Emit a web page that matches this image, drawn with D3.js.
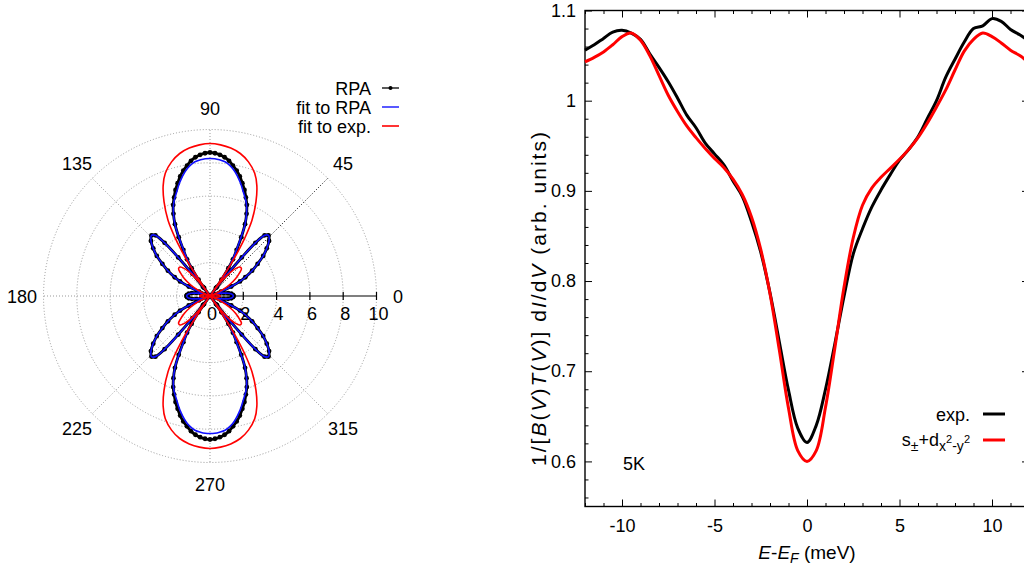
<!DOCTYPE html>
<html><head><meta charset="utf-8">
<script src="https://cdn.jsdelivr.net/npm/d3@7"></script>
<style>
body{margin:0;background:#fff}
svg{display:block}
text{font-family:"Liberation Sans",Arial,Helvetica,sans-serif;fill:#000}
</style>
</head><body>
<svg id="c" width="1024" height="574"></svg>
<script>
// ---------------- polar panel data (first quadrant, degrees; plot is mirror-symmetric) ----------------
const rpaAngles = [0,3,6,9,12,15,18,20,22,24,26,28,31,34,37,40,43,46,48,49.5,50.5,51.5,52.3,53,54,55,56.5,58,60,62,64,66,68,70,72,74,76,78,80,82,84,86,88,90];
const rpaRadii  = [1.42,1.38,1.28,1.1,0.85,0.55,0.2,0,0.7,1.4,2.0,2.4,2.95,3.45,4.0,4.45,4.85,5.06,4.9,4.2,3.0,1.7,0.7,0,0.6,1.2,2.0,2.6,3.2,4.0,4.8,5.4,5.9,6.3,6.7,7.05,7.4,7.7,7.95,8.2,8.38,8.5,8.58,8.62];

const fitRpaAngles = [0,4,8,12,16,20,22,24,26,28,31,34,37,40,43,46,48,49.5,50.5,51.5,52.3,53,54.5,56.5,58.5,61,63.8,66.5,69,72.3,75,78.6,81,83.6,86,88,90];
const fitRpaRadii  = [1.4,1.34,1.15,0.82,0.42,0,0.7,1.4,2.0,2.4,2.95,3.45,4.0,4.45,4.85,5.06,4.9,4.2,3.0,1.7,0.7,0,1.0,2.0,2.7,3.5,4.75,5.52,6.05,6.57,7.05,7.61,7.9,8.11,8.2,8.25,8.26];

const fitExpAngles = [0,4,8,12,16,19,21,23,26,30,34,38,41,44,47,50,52,54,55.5,56,56.5,57,58,59,61,64,67,70,74,78,82,86,90];
const fitExpRadii  = [0.62,0.58,0.48,0.35,0.18,0.06,0,0.3,0.8,1.35,1.85,2.25,2.5,2.5,2.25,1.7,1.1,0.45,0,0.9,1.8,2.5,3.3,4.05,5.2,6.3,7.2,7.85,8.38,8.75,8.97,9.1,9.16];

const radialTicks = [0,2,4,6,8,10];
const angleLabels = [0,45,90,135,180,225,270,315];
const polarLegend = ["RPA","fit to RPA","fit to exp."];

// ---------------- tunneling panel data ----------------
const energy = [-12,-11.5,-11,-10.5,-10,-9.5,-9,-8.5,-8,-7.5,-7,-6.5,-6,-5.5,-5,-4.5,-4,-3.5,-3,-2.5,-2,-1.5,-1,-0.5,0,0.5,1,1.5,2,2.5,3,3.5,4,4.5,5,5.5,6,6.5,7,7.5,8,8.5,9,9.5,10,10.5,11,11.5,12];
const expValues = [1.056,1.062,1.069,1.076,1.078,1.075,1.068,1.052,1.037,1.021,1.003,0.984,0.970,0.953,0.941,0.929,0.911,0.894,0.866,0.832,0.787,0.733,0.679,0.637,0.621,0.640,0.680,0.730,0.783,0.830,0.858,0.882,0.901,0.918,0.934,0.946,0.960,0.980,1.000,1.026,1.046,1.065,1.080,1.083,1.091,1.088,1.079,1.073,1.066];
const fitValues = [1.043,1.048,1.054,1.062,1.071,1.075,1.067,1.050,1.028,1.006,0.988,0.972,0.959,0.947,0.936,0.926,0.913,0.896,0.871,0.835,0.786,0.724,0.659,0.612,0.600,0.612,0.660,0.725,0.793,0.848,0.884,0.903,0.915,0.925,0.935,0.946,0.959,0.975,0.993,1.012,1.034,1.055,1.068,1.075,1.071,1.064,1.056,1.050,1.042];
const xTicks = [-10,-5,0,5,10];
const xTickLabels = ["-10","-5","0","5","10"];
const yTicks = [0.6,0.7,0.8,0.9,1.0,1.1];
const yTickLabels = ["0.6","0.7","0.8","0.9","1","1.1"];

const svg = d3.select("#c");
const FS = 18;

// =================== POLAR PANEL ===================
const cx = 210, cy = 296;
const rS = d3.scaleLinear().domain([0,10]).range([0,166.5]);
const P = svg.append("g").attr("transform",`translate(${cx},${cy})`);
const toRad = a => (90 - a) * Math.PI / 180;

[2,4,6,8,10].forEach(v=>{
  P.append("circle").attr("r",rS(v)).attr("fill","none")
   .attr("stroke","#999").attr("stroke-width",1).attr("stroke-dasharray","1,2");
});
[45,90,135,180,225,270,315].forEach(a=>{
  const p = d3.pointRadial(toRad(a), rS(10));
  P.append("line").attr("x1",0).attr("y1",0).attr("x2",p[0]).attr("y2",p[1])
   .attr("stroke", a===45 ? "#000" : "#999").attr("stroke-width",1)
   .attr("stroke-dasharray","1,2");
});
P.append("line").attr("x1",0).attr("y1",0).attr("x2",rS(10)).attr("y2",0)
  .attr("stroke","#000").attr("stroke-width",1.2);
radialTicks.forEach(v=>{
  if (v>0) P.append("line").attr("x1",rS(v)).attr("x2",rS(v)).attr("y1",-4).attr("y2",4)
    .attr("stroke","#000").attr("stroke-width",1.2);
  P.append("text").attr("x",rS(v)+2).attr("y",24).attr("text-anchor","middle")
    .attr("font-size",FS).text(String(v));
});
angleLabels.forEach(a=>{
  const p = d3.pointRadial(toRad(a), 188);
  P.append("text").attr("x",p[0]).attr("y",p[1]+6.5).attr("text-anchor","middle")
   .attr("font-size",FS).text(String(a));
});

function fullCurve(angles, radii){
  const q = angles.map((a,i)=>[a, radii[i]]);
  const pts = [];
  const push = p => { const l = pts[pts.length-1]; if(!l || Math.abs(l[0]-p[0])>1e-9) pts.push(p); };
  q.forEach(([a,r])=>push([a,r]));
  q.slice().reverse().forEach(([a,r])=>push([180-a,r]));
  q.forEach(([a,r])=>push([180+a,r]));
  q.slice().reverse().forEach(([a,r])=>push([360-a,r]));
  if (Math.abs(pts[pts.length-1][0]-360)<1e-9) pts.pop();
  return pts;
}
const radialLine = d3.lineRadial()
  .angle(d=>toRad(d[0])).radius(d=>rS(d[1]))
  .curve(d3.curveCatmullRomClosed.alpha(0.5));

const rpaPts = fullCurve(rpaAngles, rpaRadii);
P.append("path").attr("d",radialLine(rpaPts)).attr("fill","none")
  .attr("stroke","#000").attr("stroke-width",2.8).attr("stroke-linejoin","round");
P.selectAll("circle.dot").data(rpaPts).enter().append("circle").attr("class","dot")
  .attr("cx",d=>d3.pointRadial(toRad(d[0]),rS(d[1]))[0])
  .attr("cy",d=>d3.pointRadial(toRad(d[0]),rS(d[1]))[1])
  .attr("r",2.4).attr("fill","#000");
P.append("path").attr("d",radialLine(fullCurve(fitRpaAngles, fitRpaRadii))).attr("fill","none")
  .attr("stroke","#1010ff").attr("stroke-width",1.6);
P.append("path").attr("d",radialLine(fullCurve(fitExpAngles, fitExpRadii))).attr("fill","none")
  .attr("stroke","#ff0000").attr("stroke-width",1.6);

const legCol = ["#000","#3030ff","#ff0000"];
polarLegend.forEach((t,i)=>{
  const yy = 88 + i*19;
  svg.append("text").attr("x",371).attr("y",yy+6.5).attr("text-anchor","end")
    .attr("font-size",FS).text(t);
  svg.append("line").attr("x1",382).attr("x2",399).attr("y1",yy).attr("y2",yy)
    .attr("stroke",legCol[i]).attr("stroke-width",i===0?1.3:1.6);
  if(i===0) svg.append("circle").attr("cx",390.5).attr("cy",yy).attr("r",2).attr("fill","#000");
});

// =================== TUNNELING PANEL ===================
const x = d3.scaleLinear().domain([-12,12]).range([585,1029]);
const y = d3.scaleLinear().domain([0.55,1.1]).range([506.5,10.5]);
const R = svg.append("g");
const xMinor = d3.range(-12,13,1).filter(v=>!xTicks.includes(v));
const yMinor = d3.range(56,111,2).map(v=>v/100).filter(v=>!yTicks.some(t=>Math.abs(t-v)<1e-9));

function styleAxis(g){ g.select(".domain").remove(); g.selectAll("line").attr("stroke","#000").attr("stroke-width",1); g.selectAll("text").attr("font-size",FS).attr("font-family",null); }

R.append("g").attr("transform",`translate(0,${y(0.55)})`)
  .call(d3.axisBottom(x).tickValues(xTicks).tickSize(-7).tickPadding(13).tickFormat((d,i)=>xTickLabels[i])).call(styleAxis);
R.append("g").attr("transform",`translate(0,${y(0.55)})`)
  .call(d3.axisBottom(x).tickValues(xMinor).tickSize(-3.5).tickFormat("")).call(styleAxis);
R.append("g").attr("transform",`translate(0,${y(1.1)})`)
  .call(d3.axisTop(x).tickValues(xTicks).tickSize(-7).tickFormat("")).call(styleAxis);
R.append("g").attr("transform",`translate(0,${y(1.1)})`)
  .call(d3.axisTop(x).tickValues(xMinor).tickSize(-3.5).tickFormat("")).call(styleAxis);
R.append("g").attr("transform",`translate(${x(-12)},0)`)
  .call(d3.axisLeft(y).tickValues(yTicks).tickSize(-7).tickPadding(9).tickFormat((d,i)=>yTickLabels[i])).call(styleAxis);
R.append("g").attr("transform",`translate(${x(-12)},0)`)
  .call(d3.axisLeft(y).tickValues(yMinor).tickSize(-3.5).tickFormat("")).call(styleAxis);
R.append("g").attr("transform",`translate(${x(12)},0)`)
  .call(d3.axisRight(y).tickValues(yTicks).tickSize(-7).tickFormat("")).call(styleAxis);

R.append("rect").attr("x",x(-12)).attr("y",y(1.1)).attr("width",x(12)-x(-12)).attr("height",y(0.55)-y(1.1))
  .attr("fill","none").attr("stroke","#000").attr("stroke-width",1.4);

const line = d3.line().x((d,i)=>x(energy[i])).y(d=>y(d)).curve(d3.curveCatmullRom.alpha(0.5));
R.append("path").attr("d",line(expValues)).attr("fill","none").attr("stroke","#000").attr("stroke-width",3).attr("stroke-linejoin","round");
R.append("path").attr("d",line(fitValues)).attr("fill","none").attr("stroke","#ff0000").attr("stroke-width",3).attr("stroke-linejoin","round");

R.append("text").attr("x",623).attr("y",470).attr("font-size",FS).text("5K");

const xl = R.append("text").attr("x",807).attr("y",559).attr("text-anchor","middle").attr("font-size",19);
xl.append("tspan").attr("font-style","italic").text("E");
xl.append("tspan").text("-");
xl.append("tspan").attr("font-style","italic").text("E");
xl.append("tspan").attr("font-style","italic").attr("font-size",14).attr("dy",4).text("F");
xl.append("tspan").attr("dy",-4).text(" (meV)");

const yl = R.append("text").attr("transform","translate(546,299) rotate(-90)").attr("text-anchor","middle")
  .attr("font-size",21).attr("textLength",334).attr("lengthAdjust","spacing");
[["1/[",0],["B",1],["(",0],["V",1],[")",0],["T",1],["(",0],["V",1],[")] d",0],["I",1],["/d",0],["V",1],[" (arb. units)",0]]
  .forEach(([t,it])=>{ const s = yl.append("tspan").text(t); if(it) s.attr("font-style","italic"); });

R.append("text").attr("x",970).attr("y",421).attr("text-anchor","end").attr("font-size",FS).text("exp.");
R.append("line").attr("x1",983).attr("x2",1005).attr("y1",414).attr("y2",414).attr("stroke","#000").attr("stroke-width",3);
const l2 = R.append("text").attr("x",970).attr("y",446).attr("text-anchor","end").attr("font-size",FS);
l2.append("tspan").text("s");
l2.append("tspan").attr("font-size",14).attr("dy",5).text("±");
l2.append("tspan").attr("dy",-5).text("+d");
l2.append("tspan").attr("font-size",14).attr("dy",5).text("x");
l2.append("tspan").attr("font-size",11).attr("dy",-8).text("2");
l2.append("tspan").attr("font-size",14).attr("dy",8).text("-y");
l2.append("tspan").attr("font-size",11).attr("dy",-8).text("2");
R.append("line").attr("x1",983).attr("x2",1005).attr("y1",440).attr("y2",440).attr("stroke","#ff0000").attr("stroke-width",3);
</script>
</body></html>
